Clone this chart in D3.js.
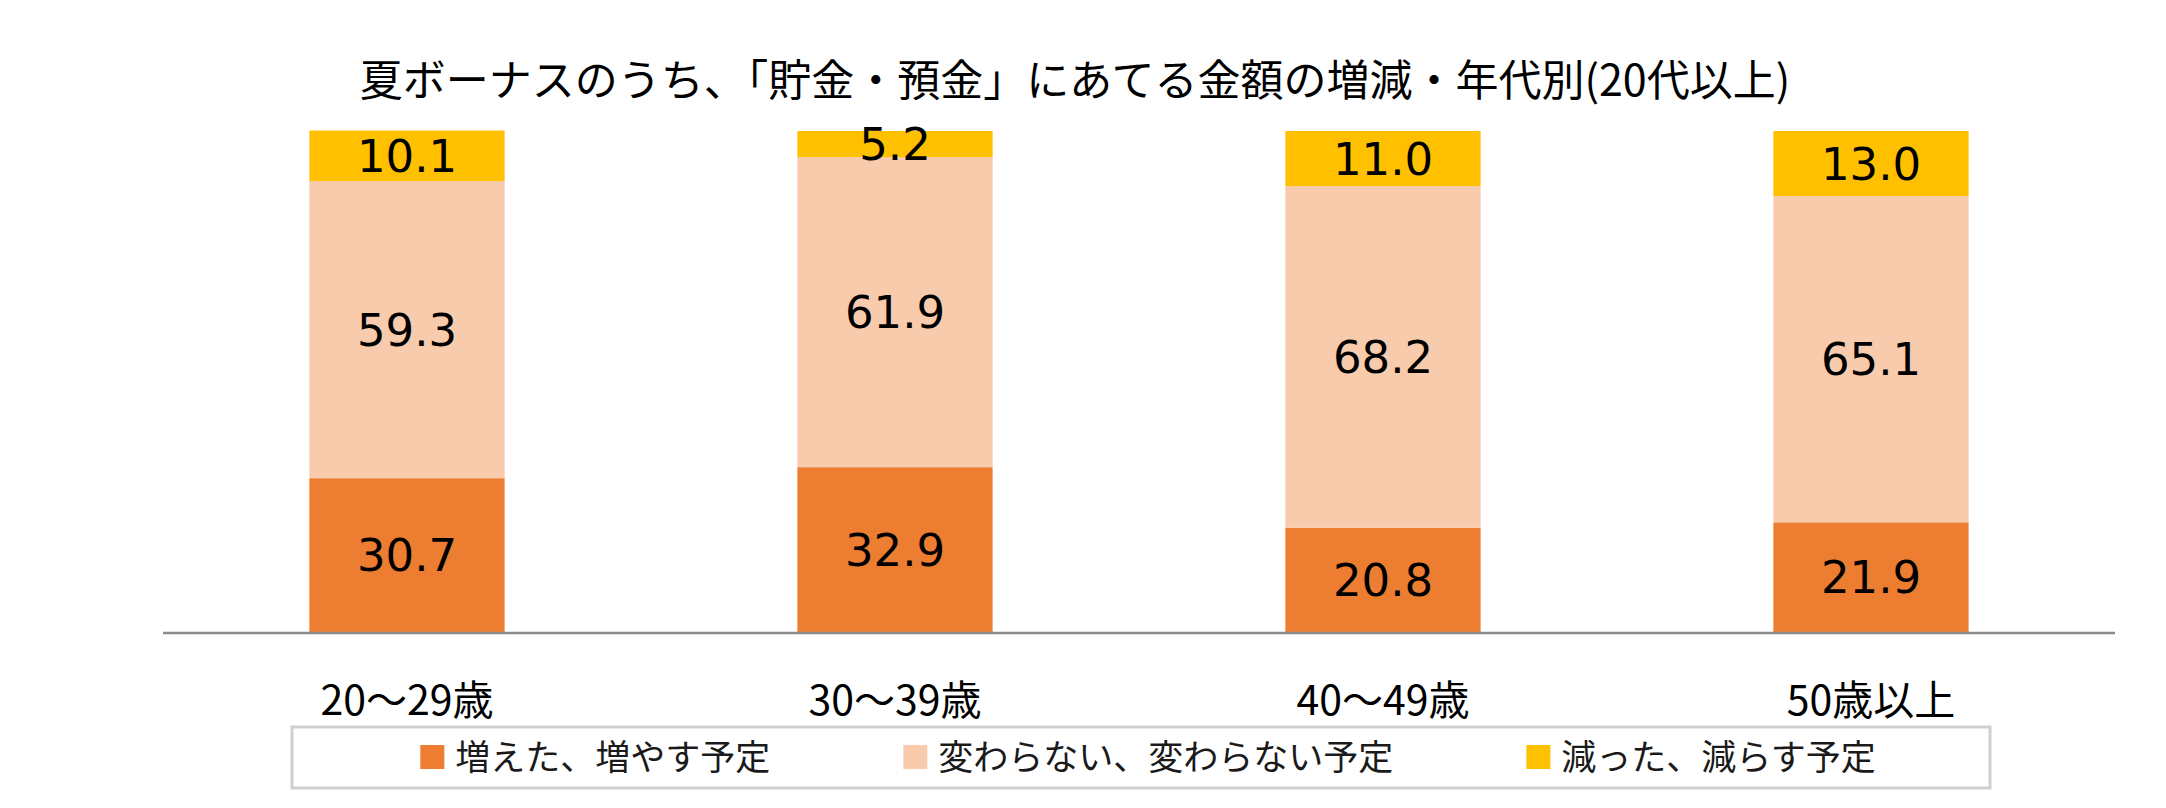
<!DOCTYPE html>
<html>
<head>
    <meta charset="utf-8">
    <title>夏ボーナスのうち「貯金・預金」にあてる金額の増減・年代別</title>
    <script src="https://d3js.org/d3.v7.min.js"></script>
    <style>
        body { margin: 0; background: #ffffff; }
        .title { font-family: "Noto Sans CJK JP", sans-serif; font-size: 43px; fill: #000; }
        .cat_label { font-family: "Noto Sans CJK JP", sans-serif; font-size: 41px; fill: #000; }
        .value_label { font-family: "DejaVu Sans", Verdana, sans-serif; font-size: 45px; fill: #000; }
        .legend_text { font-family: "Noto Sans CJK JP", sans-serif; font-size: 35px; fill: #1a1a1a; }
    </style>
</head>
<body>
    <div id="svg_container"></div>

    <script>
        // data (percent)
        const categories = ["20～29歳", "30～39歳", "40～49歳", "50歳以上"];
        const series_names = ["増えた、増やす予定", "変わらない、変わらない予定", "減った、減らす予定"];
        const increased = [30.7, 32.9, 20.8, 21.9];
        const unchanged = [59.3, 61.9, 68.2, 65.1];
        const decreased = [10.1, 5.2, 11.0, 13.0];
        const series_colors = ["#ED7D31", "#F8CBAD", "#FFC000"];

        const width = 2166;
        const height = 808;

        const svg = d3.select("#svg_container")
            .append("svg")
            .attr("width", width)
            .attr("height", height);

        // title
        svg.append("text")
            .attr("class", "title")
            .attr("x", 1075)
            .attr("y", 96)
            .attr("text-anchor", "middle")
            .text("夏ボーナスのうち、「貯金・預金」にあてる金額の増減・年代別(20代以上)");

        // scales
        const x = d3.scaleBand()
            .domain(categories)
            .range([163, 2115])
            .paddingInner(0.6)
            .paddingOuter(0.3);

        const y = d3.scaleLinear()
            .domain([0, 100])
            .range([632, 131]);

        // build stack table
        const table = categories.map((c, i) => ({
            cat: c,
            s0: increased[i],
            s1: unchanged[i],
            s2: decreased[i]
        }));

        const stack = d3.stack().keys(["s0", "s1", "s2"]);
        const stacked = stack(table);

        const layers = svg.selectAll("g.layer")
            .data(stacked)
            .enter()
            .append("g")
            .attr("class", "layer")
            .attr("fill", (d, i) => series_colors[i]);

        layers.selectAll("rect")
            .data(d => d)
            .enter()
            .append("rect")
            .attr("x", d => x(d.data.cat))
            .attr("y", d => y(d[1]))
            .attr("width", x.bandwidth())
            .attr("height", d => y(d[0]) - y(d[1]));

        // value labels, centred in each segment
        layers.selectAll("text")
            .data(d => d.map(v => ({ v: v, key: d.key })))
            .enter()
            .append("text")
            .attr("class", "value_label")
            .attr("x", d => x(d.v.data.cat) + x.bandwidth() / 2)
            .attr("y", d => (y(d.v[0]) + y(d.v[1])) / 2)
            .attr("dy", "0.36em")
            .attr("text-anchor", "middle")
            .text(d => d.v.data[d.key].toFixed(1));

        // baseline
        svg.append("line")
            .attr("x1", 163)
            .attr("x2", 2115)
            .attr("y1", y(0) + 1)
            .attr("y2", y(0) + 1)
            .attr("stroke", "#8c8c8c")
            .attr("stroke-width", 2.5);

        // category labels
        svg.selectAll("text.cat_label")
            .data(categories)
            .enter()
            .append("text")
            .attr("class", "cat_label")
            .attr("x", d => x(d) + x.bandwidth() / 2)
            .attr("y", 715)
            .attr("text-anchor", "middle")
            .text(d => d);

        // legend
        const legend_box = { x: 292, y: 727, w: 1698, h: 61 };
        svg.append("rect")
            .attr("x", legend_box.x)
            .attr("y", legend_box.y)
            .attr("width", legend_box.w)
            .attr("height", legend_box.h)
            .attr("fill", "#ffffff")
            .attr("stroke", "#d0d0d0")
            .attr("stroke-width", 3);

        const legend = svg.append("g");
        const swatch = 24;
        const swatch_gap = 11;
        const item_gap = 133;

        const items = legend.selectAll("g")
            .data(series_names)
            .enter()
            .append("g");

        items.append("rect")
            .attr("width", swatch)
            .attr("height", swatch)
            .attr("y", 745)
            .attr("fill", (d, i) => series_colors[i]);

        items.append("text")
            .attr("class", "legend_text")
            .attr("x", swatch + swatch_gap)
            .attr("y", 770)
            .text(d => d);

        // lay items out one after another, then centre the whole row in the box
        let cursor = 0;
        items.each(function () {
            const g = d3.select(this);
            const tw = g.select("text").node().getComputedTextLength();
            g.attr("transform", "translate(" + cursor + ",0)");
            cursor += swatch + swatch_gap + tw + item_gap;
        });
        const total = cursor - item_gap;
        const start = legend_box.x + legend_box.w / 2 - total / 2 + 7;
        legend.attr("transform", "translate(" + start + ",0)");
    </script>
</body>
</html>
